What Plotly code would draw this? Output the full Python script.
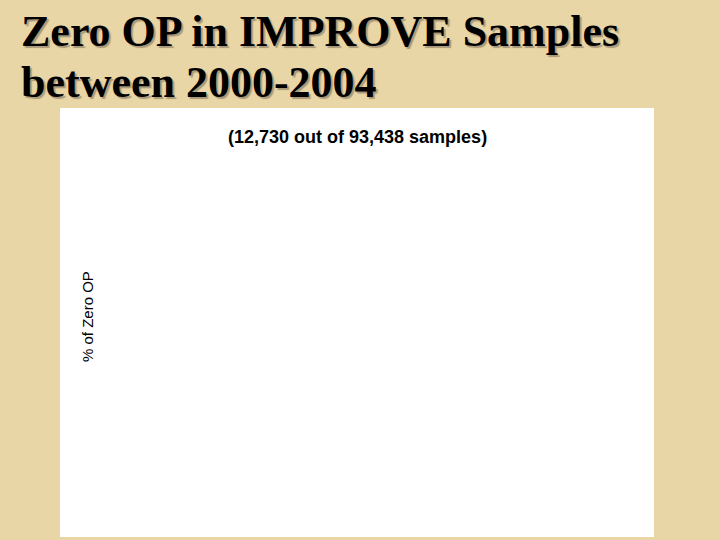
import plotly.graph_objects as go

# Data (the reference chart shows no plotted values)
categories = []
values = []

title_lines = ["Zero OP in IMPROVE Samples", "between 2000-2004"]
subtitle = "(12,730 out of 93,438 samples)"
y_label = "% of Zero OP"

W, H = 720, 540
bg = "#E9D6A6"

fig = go.Figure()
fig.add_trace(go.Bar(x=categories, y=values, marker_color="#1f3f8f", showlegend=False))

x0, x1 = 60 / W, 654 / W
y0, y1 = 1 - 537 / H, 1 - 108 / H

fig.update_layout(
    width=W, height=H,
    margin=dict(l=0, r=0, t=0, b=0),
    paper_bgcolor=bg,
    plot_bgcolor="white",
    xaxis=dict(domain=[x0, x1], visible=False),
    yaxis=dict(domain=[y0, y1], visible=False),
    showlegend=False,
)

title_font = "Liberation Serif, Times New Roman, serif"
for txt, base in zip(title_lines, [48, 99]):
    fig.add_annotation(
        xref="paper", yref="paper",
        x=19 / W, y=1 - base / H,
        xanchor="left", yanchor="bottom", yshift=-10,
        text="<b>%s</b>" % txt, showarrow=False,
        font=dict(family=title_font, size=44, color="black",
                  shadow="2px 2px 1px #a8987a"),
    )

fig.add_annotation(
    xref="paper", yref="paper", x=357 / W, y=1 - 137 / H,
    text="<b>%s</b>" % subtitle, showarrow=False, xanchor="center", yanchor="middle",
    font=dict(family="Liberation Sans, Arial, sans-serif", size=18, color="black"),
)
fig.add_annotation(
    xref="paper", yref="paper", x=87 / W, y=1 - 317 / H,
    text=y_label, showarrow=False, textangle=-90, xanchor="center", yanchor="middle",
    font=dict(family="Liberation Sans, Arial, sans-serif", size=15, color="black"),
)

fig.write_html(
    "out.html",
    config={"displayModeBar": False},
    post_script="document.body.style.margin='0';document.body.style.background='%s';" % bg,
)
